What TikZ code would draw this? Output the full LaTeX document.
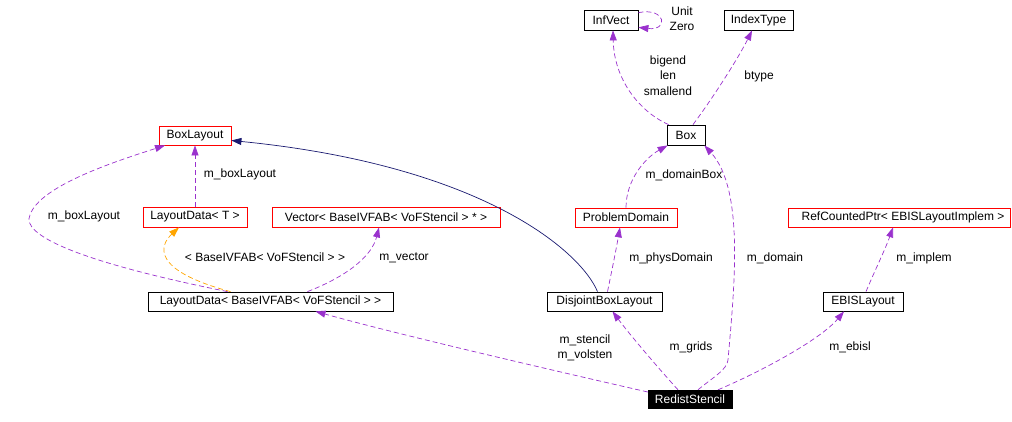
\documentclass[tikz,border=0pt]{standalone}
\usepackage{fontspec}
\setmainfont{Liberation Sans}
\usetikzlibrary{arrows.meta}
\definecolor{purp}{HTML}{9A32CD}
\definecolor{navy}{HTML}{191970}
\definecolor{orng}{HTML}{FFA500}
\begin{document}
\begin{tikzpicture}[x=1pt,y=-1pt,
  every node/.style={font=\fontsize{12}{15.5}\selectfont, inner sep=0pt},
  cls/.style={draw=black, line width=0.8pt, fill=white, minimum height=19pt},
  rcls/.style={draw=red, line width=0.8pt, fill=white, minimum height=19pt},
  lbl/.style={align=center},
  pe/.style={draw=purp, line width=0.7pt, dash pattern=on 5pt off 3pt, -{Triangle[length=10pt,width=7pt]}},
  oe/.style={draw=orng, line width=0.7pt, dash pattern=on 5pt off 3pt, -{Triangle[length=10pt,width=7pt]}},
  ne/.style={draw=navy, line width=0.7pt, -{Triangle[length=10pt,width=7pt]}}]
\useasboundingbox (0,0) rectangle (1012,421);
% nodes
\node[cls, minimum width=54pt, minimum height=20pt] (InfVect) at (611,20) {InfVect};
\node[cls, minimum width=69pt, minimum height=20pt] (IndexType) at (758.5,20) {IndexType};
\node[cls, minimum width=38pt, minimum height=20pt] (Box) at (686,135) {Box};
\node[rcls, minimum width=72pt] (BoxLayout) at (195,135.5) {BoxLayout};
\node[rcls, minimum width=104pt, minimum height=20pt] (LDT) at (195,217) {LayoutData< T >};
\node[rcls, minimum width=228pt, minimum height=20pt] (Vec) at (386,217) {Vector< BaseIVFAB< VoFStencil > * >};
\node[rcls, minimum width=102pt] (PD) at (626,217.5) {ProblemDomain};
\node[rcls, minimum width=222pt] (RCP) at (899,217.5) {\hspace*{8pt}RefCountedPtr< EBISLayoutImplem >};
\node[cls, minimum width=245pt] (LDB) at (270.5,301.5) {LayoutData< BaseIVFAB< VoFStencil > >};
\node[cls, minimum width=115pt] (DBL) at (604.5,301.5) {DisjointBoxLayout};
\node[cls, minimum width=80pt] (EBIS) at (863,301.5) {EBISLayout};
\node[draw=black, fill=black, text=white, minimum width=84pt, minimum height=18pt] (RS) at (690,399) {RedistStencil};
% edges
\draw[pe] (InfVect.15) .. controls (666,7) and (669,31) .. (InfVect.-15);
\draw[pe] ([xshift=2pt]Box.north west) .. controls (640,112) and (614,80) .. ([xshift=2pt]InfVect.south);
\draw[pe] ([xshift=7pt]Box.north) .. controls (715,95) and (740,55) .. ([xshift=-6.5pt]IndexType.south);
\draw[pe] (PD.north) .. controls (626,180) and (645,158) .. ([xshift=1pt]Box.south west);
\draw[pe] ([xshift=8pt]RS.north) .. controls (712,378) and (727,370) .. (728,360) .. controls (734,290) and (745,190) .. ([xshift=-1pt]Box.south east);
\draw[ne] ([xshift=-7pt]DBL.north) .. controls (580,250) and (480,165) .. ([yshift=-5pt]BoxLayout.east);
\draw[pe] ([xshift=3pt]DBL.north) .. controls (612,270) and (616,250) .. ([xshift=-6pt]PD.south);
\draw[pe] ([xshift=-12pt]RS.north) .. controls (660,370) and (630,335) .. ([xshift=8pt]DBL.south);
\draw[pe] ([xshift=28pt]RS.north) .. controls (760,372) and (820,340) .. ([xshift=-19pt]EBIS.south);
\draw[pe] ([xshift=3pt]EBIS.north) .. controls (875,270) and (885,250) .. ([xshift=-6pt]RCP.south);
\draw[pe] ([yshift=7pt]RS.west) .. controls (560,372) and (400,335) .. ([xshift=45pt]LDB.south);
\draw[pe] ([xshift=37pt]LDB.north) .. controls (350,275) and (372,255) .. ([xshift=-7pt]Vec.south);
\draw[oe] ([xshift=-40pt]LDB.north) .. controls (150,270) and (160,245) .. ([xshift=-16pt]LDT.south);
\draw[pe] ([xshift=-43pt]LDB.north) .. controls (80,262) and (20,235) .. (30,215) .. controls (40,185) and (120,160) .. ([xshift=-30pt]BoxLayout.south);
\draw[pe] (LDT.north) -- (BoxLayout.south);
% labels
\node[lbl] (lUnit) at (682,18.5) {Unit\\Zero};
\node[lbl] (lBig) at (668,75.5) {bigend\\len\\smallend};
\node[lbl] (lBtype) at (759,76) {btype};
\node[lbl] (lDomBox) at (684,175) {m\_domainBox};
\node[lbl] (lBL1) at (240,174) {m\_boxLayout};
\node[lbl] (lBL2) at (84,216) {m\_boxLayout};
\node[lbl] (lTmpl) at (265,257) {< BaseIVFAB< VoFStencil > >};
\node[lbl] (lVec) at (404,258) {m\_vector};
\node[lbl] (lPhys) at (671,258) {m\_physDomain};
\node[lbl] (lDom) at (775,258) {m\_domain};
\node[lbl] (lImpl) at (924,258) {m\_implem};
\node[lbl] (lSten) at (585,348) {m\_stencil\\m\_volsten};
\node[lbl] (lGrids) at (691,347) {m\_grids};
\node[lbl] (lEbisl) at (850,347) {m\_ebisl};
\end{tikzpicture}
\end{document}
